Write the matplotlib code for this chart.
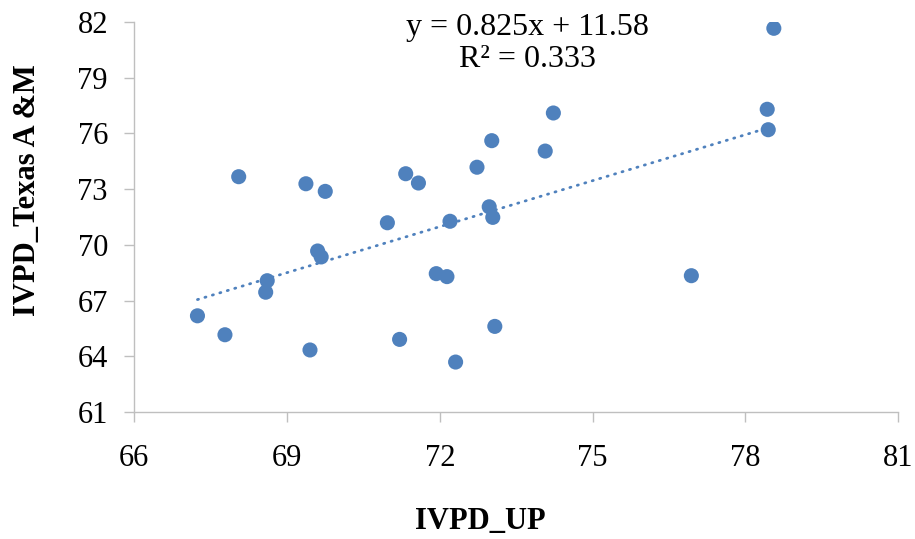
import matplotlib
matplotlib.use('agg')
import matplotlib.pyplot as plt
import numpy as np

plt.rcParams['font.family'] = ['Liberation Serif', 'DejaVu Serif']

# IVPD values
ivpd_up = [67.24, 67.78, 68.05, 68.61, 68.58, 69.37, 69.75, 69.60, 69.67, 69.45,
           70.97, 71.33, 71.58, 71.21, 71.93, 72.14, 72.20, 72.31, 72.73, 72.97,
           73.04, 73.02, 73.08, 74.07, 74.23, 76.94, 78.43, 78.45, 78.56]
ivpd_tamu = [66.18, 65.16, 73.67, 68.07, 67.45, 73.29, 72.88, 69.67, 69.35, 64.34,
             71.19, 73.83, 73.33, 64.91, 68.45, 68.29, 71.27, 63.69, 74.18, 72.05,
             71.48, 75.61, 65.61, 75.05, 77.10, 68.34, 77.30, 76.20, 81.66]

slope = 0.825
intercept = 11.58
r2 = 0.333

x_ticks = [66, 69, 72, 75, 78, 81]
y_ticks = [61, 64, 67, 70, 73, 76, 79, 82]

blue = '#4F81BD'
grey = '#BFBFBF'

fig = plt.figure(figsize=(9.15, 5.39), dpi=100)
ax = fig.add_axes([0.1468, 0.2356, 0.8347, 0.7236])

ax.scatter(ivpd_up, ivpd_tamu, s=118, color=blue, edgecolors='none', zorder=3)

# linear trendline over the data range
tx = np.array([min(ivpd_up), max(ivpd_up)])
ax.plot(tx, slope * tx + intercept, color=blue, lw=2.0,
        linestyle=(0, (0.4, 2.4)), dash_capstyle='round', zorder=2)

ax.set_xlim(66, 81)
ax.set_ylim(61, 82)
ax.set_xticks(x_ticks)
ax.set_yticks(y_ticks)

for side in ['top', 'right']:
    ax.spines[side].set_visible(False)
for side in ['left', 'bottom']:
    ax.spines[side].set_color(grey)
    ax.spines[side].set_linewidth(1.0)

ax.tick_params(axis='both', colors=grey, labelcolor='black', labelsize=22,
               length=7, width=1.0, direction='out')
ax.tick_params(axis='x', pad=16)
ax.tick_params(axis='y', pad=12)

ax.set_xlabel('IVPD_UP', fontsize=22, fontweight='bold')
ax.set_ylabel('IVPD_Texas A &M', fontsize=22, fontweight='bold')
ax.xaxis.set_label_coords(0.453, -0.243)
ax.yaxis.set_label_coords(-0.121, 0.569)

fig.text(0.576, 0.975, 'y = %.3fx + %.2f\nR² = %.3f' % (slope, intercept, r2),
         ha='center', va='top', fontsize=23, linespacing=1.1)

fig.savefig('out.png', dpi=100)
